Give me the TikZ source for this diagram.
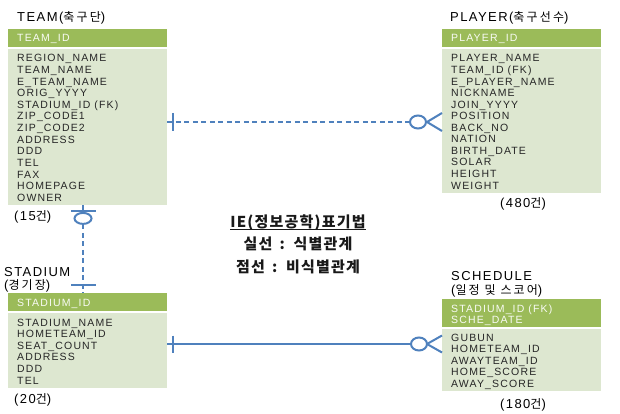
\documentclass[tikz,border=0pt]{standalone}
\usepackage{fontspec}
\setmainfont{Liberation Sans}[LetterSpace=11]
\newfontfamily\kr{Noto Sans CJK KR}[LetterSpace=18]
\newfontfamily\krn{Noto Sans CJK KR}[LetterSpace=8]
\newcommand\krt[1]{{\kr\fontsize{12}{14}\selectfont #1}}
\definecolor{hdr}{RGB}{155,187,89}
\definecolor{bdy}{RGB}{221,231,208}
\definecolor{lnk}{RGB}{79,129,189}
\tikzset{
 hdrbox/.style={fill=hdr, draw=none, inner sep=0, anchor=north west, minimum width=159pt},
 bodybox/.style={fill=bdy, draw=none, inner sep=0, anchor=north west, minimum width=159pt},
 attr/.style={anchor=base west, inner sep=0, font=\fontsize{10.5}{12}\selectfont, text=black!85},
 hattr/.style={attr, text=white!94!hdr},
 ttl/.style={anchor=base west, inner sep=0, font=\fontsize{13}{15}\selectfont, text=black},
 cnt/.style={anchor=base, inner sep=0, font=\fontsize{13}{15}\selectfont, text=black},
 note/.style={anchor=base, inner sep=0, font=\krn\bfseries\fontsize{15}{17}\selectfont, text=black!90},
 lnkline/.style={draw=lnk, line width=2pt},
 dashline/.style={lnkline, dash pattern=on 5pt off 3.5pt},
 hollow/.style={draw=lnk, line width=2pt, fill=white},
}
\begin{document}
\begin{tikzpicture}[x=1pt,y=-1pt]
\useasboundingbox[fill=white] (0,0) rectangle (620,414);
% TEAM
\node[ttl] (teamttl) at (17,21.5) {TEAM(\krt{축구단})};
\node[hdrbox, minimum height=18pt] (teamhdr) at (8,29) {};
\node[hattr] (teamkey) at (17,42) {TEAM\_ID};
\node[bodybox, minimum height=156pt] (teambody) at (8,49) {};
\foreach \t [count=\i] in {REGION\_NAME, TEAM\_NAME, E\_TEAM\_NAME, ORIG\_YYYY, STADIUM\_ID (FK), ZIP\_CODE1, ZIP\_CODE2, ADDRESS, DDD, TEL, FAX, HOMEPAGE, OWNER}
  \node[attr] (team-a\i) at (17,{62+11.6*(\i-1)}) {\t};
\node[ttl] (teamcnt) at (14,220.5) {(15\krt{건})};
% PLAYER
\node[ttl] (playerttl) at (450,21.5) {PLAYER(\krt{축구선수})};
\node[hdrbox, minimum height=18pt] (playerhdr) at (442,29) {};
\node[hattr] (playerkey) at (451,42) {PLAYER\_ID};
\node[bodybox, minimum height=144pt] (playerbody) at (442,49) {};
\foreach \t [count=\i] in {PLAYER\_NAME, TEAM\_ID (FK), E\_PLAYER\_NAME, NICKNAME, JOIN\_YYYY, POSITION, BACK\_NO, NATION, BIRTH\_DATE, SOLAR, HEIGHT, WEIGHT}
  \node[attr] (player-a\i) at (451,{62+11.55*(\i-1)}) {\t};
\node[cnt] (playercnt) at (523,207.5) {(480\krt{건})};
% STADIUM
\node[ttl] (stadttl1) at (4,276.5) {STADIUM};
\node[ttl] (stadttl2) at (4,289.5) {(\krt{경기장})};
\node[hdrbox, minimum height=18pt] (stadhdr) at (8,293) {};
\node[hattr] (stadkey) at (17,306) {STADIUM\_ID};
\node[bodybox, minimum height=75pt] (stadbody) at (8,313) {};
\foreach \t [count=\i] in {STADIUM\_NAME, HOMETEAM\_ID, SEAT\_COUNT, ADDRESS, DDD, TEL}
  \node[attr] (stad-a\i) at (17,{326+11.6*(\i-1)}) {\t};
\node[ttl] (stadcnt) at (14,403.5) {(20\krt{건})};
% SCHEDULE
\node[ttl] (schttl1) at (451,280.5) {SCHEDULE};
\node[ttl] (schttl2) at (451,294.5) {(\krt{일정 및 스코어})};
\node[hdrbox, minimum height=28pt] (schhdr) at (442,299) {};
\node[hattr] (schkey1) at (451,312) {STADIUM\_ID (FK)};
\node[hattr] (schkey2) at (451,323) {SCHE\_DATE};
\node[bodybox, minimum height=62pt] (schbody) at (442,329) {};
\foreach \t [count=\i] in {GUBUN, HOMETEAM\_ID, AWAYTEAM\_ID, HOME\_SCORE, AWAY\_SCORE}
  \node[attr] (sch-a\i) at (451,{341+11.5*(\i-1)}) {\t};
\node[cnt] (schcnt) at (523,408.5) {(180\krt{건})};
% notes
\node[note] (ie) at (298,227) {IE(정보공학)표기법};
\draw[black!90, line width=0.8pt] ([yshift=-2.5pt]ie.base west) -- ([yshift=-2.5pt]ie.base east);
\node[note] (solidnote) at (298,249) {실선\, : \,식별관계};
\node[note] (dashnote) at (298,272) {점선\, : \,비식별관계};
% connector TEAM - PLAYER (dashed)
\coordinate (hy1) at (0,122);
\coordinate (tpA) at (teambody.east |- hy1);
\coordinate (tpB) at (playerbody.west |- hy1);
\draw[dashline] (tpA) -- ([xshift=-32pt]tpB);
\draw[lnkline] ([xshift=6pt,yshift=9pt]tpA) -- ([xshift=6pt,yshift=-9pt]tpA);
\draw[lnkline] ([xshift=-15pt]tpB) -- ([yshift=9pt]tpB);
\draw[lnkline] ([xshift=-15pt]tpB) -- ([yshift=-9pt]tpB);
\draw[hollow] ([xshift=-24pt]tpB) ellipse [x radius=8pt, y radius=6.5pt];
% connector TEAM - STADIUM (dashed)
\coordinate (vx) at (83,0);
\coordinate (tsA) at (teambody.south -| vx);
\coordinate (tsB) at (stadhdr.north -| vx);
\draw[dashline] ([yshift=-19pt]tsA) -- (tsB);
\draw[lnkline] ([xshift=-12pt,yshift=-6pt]tsA) -- ([xshift=13pt,yshift=-6pt]tsA);
\draw[hollow] ([yshift=-13pt]tsA) ellipse [x radius=8.5pt, y radius=5.5pt];
\draw[lnkline] ([xshift=-12pt,yshift=8pt]tsB) -- ([xshift=13pt,yshift=8pt]tsB);
\draw[lnkline] (tsA) -- ([yshift=-6pt]tsA);
% connector STADIUM - SCHEDULE (solid)
\coordinate (hy2) at (0,344);
\coordinate (ssA) at (stadbody.east |- hy2);
\coordinate (ssB) at (schbody.west |- hy2);
\draw[lnkline] (ssA) -- ([xshift=-30pt]ssB);
\draw[lnkline] ([xshift=6pt,yshift=8.5pt]ssA) -- ([xshift=6pt,yshift=-8.5pt]ssA);
\draw[lnkline] ([xshift=-15pt]ssB) -- ([yshift=8.5pt]ssB);
\draw[lnkline] ([xshift=-15pt]ssB) -- ([yshift=-8.5pt]ssB);
\draw[hollow] ([xshift=-23pt]ssB) ellipse [x radius=8pt, y radius=6.5pt];
\end{tikzpicture}
\end{document}
